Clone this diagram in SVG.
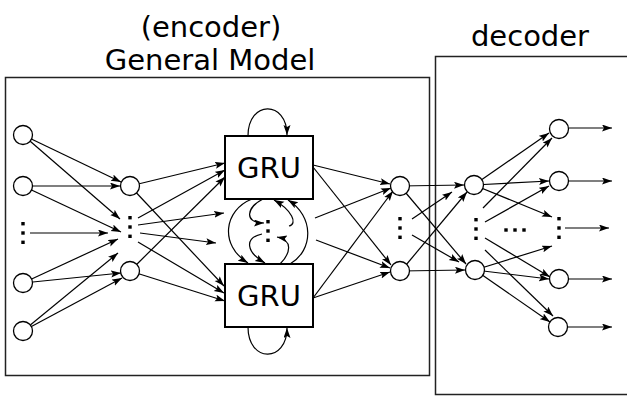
<svg xmlns="http://www.w3.org/2000/svg" width="627" height="396" viewBox="0 0 627 396">
  <style>
    .frame { fill: none; stroke: #222; stroke-width: 1.5; }
    .gru { fill: #fff; stroke: #000; stroke-width: 2; }
    .node { fill: #fff; stroke: #000; stroke-width: 1.3; }
    .edge { fill: none; stroke: #000; stroke-width: 1.2; marker-end: url(#arrow); }
    .title { font-family: "DejaVu Sans", "Liberation Sans", sans-serif; font-size: 29px; fill: #000; text-anchor: middle; }
    .label { font-family: "DejaVu Sans", "Liberation Sans", sans-serif; font-size: 29px; fill: #000; text-anchor: middle; }
    .dot { fill: #000; }
  </style>
  <defs>
    <marker id="arrow" markerUnits="userSpaceOnUse" markerWidth="11" markerHeight="8" refX="10" refY="3.5" orient="auto">
      <path d="M0,0 L10,3.5 L0,7 L2,3.5 Z" fill="#000"/>
    </marker>
    <g id="vdots">
      <rect class="dot" x="-1.7" y="-11" width="3.4" height="3.4"/>
      <rect class="dot" x="-1.7" y="-1.7" width="3.4" height="3.4"/>
      <rect class="dot" x="-1.7" y="7.6" width="3.4" height="3.4"/>
    </g>
  </defs>

  <!-- titles -->
  <text class="title" x="211" y="37">(encoder)</text>
  <text class="title" x="210" y="70">General Model</text>
  <text class="title" x="530" y="46">decoder</text>

  <!-- encoder / decoder frames -->
  <rect id="encoder" class="frame" x="5.5" y="77.5" width="424" height="298"/>
  <rect id="decoder" class="frame" x="435.5" y="56.5" width="200" height="338"/>

  <g id="connectors">
    <!-- input layer to first hidden layer -->
    <line class="edge" x1="23" y1="135" x2="121" y2="182"/>
    <line class="edge" x1="23" y1="135" x2="120" y2="219"/>
    <line class="edge" x1="23" y1="186" x2="120" y2="186"/>
    <line class="edge" x1="23" y1="186" x2="121" y2="232"/>
    <line class="edge" x1="30" y1="233" x2="108" y2="233"/>
    <line class="edge" x1="23" y1="283" x2="118" y2="239"/>
    <line class="edge" x1="23" y1="283" x2="121" y2="273"/>
    <line class="edge" x1="23" y1="331" x2="118" y2="253"/>
    <line class="edge" x1="23" y1="331" x2="122" y2="278"/>

    <!-- first hidden layer to GRU units -->
    <line class="edge" x1="130" y1="186" x2="225" y2="163"/>
    <line class="edge" x1="130" y1="186" x2="224" y2="286"/>
    <line class="edge" x1="138" y1="218" x2="225" y2="170"/>
    <line class="edge" x1="138" y1="225" x2="224" y2="213"/>
    <line class="edge" x1="140" y1="233" x2="216" y2="243"/>
    <line class="edge" x1="138" y1="242" x2="224" y2="293"/>
    <line class="edge" x1="130" y1="271" x2="225" y2="177"/>
    <line class="edge" x1="130" y1="271" x2="225" y2="301"/>

    <!-- GRU self loops -->
    <path class="edge" d="M248,136 C248,100 287,100 287,135"/>
    <path class="edge" d="M248,327 C248,363 287,363 287,328"/>

    <!-- recurrent links between the GRU units -->
    <path class="edge" d="M252,199 C224,210 219,245 248,263"/>
    <path class="edge" d="M263,199 C247,207 243,223 264,223"/>
    <path class="edge" d="M262,234 C244,238 246,252 265,263"/>
    <path class="edge" d="M289,226 C298,224 292,210 274,200"/>
    <path class="edge" d="M280,264 C291,253 293,240 277,237"/>
    <path class="edge" d="M290,264 C314,250 314,216 288,200"/>

    <!-- GRU units to second hidden layer -->
    <line class="edge" x1="313" y1="165" x2="390" y2="184"/>
    <line class="edge" x1="313" y1="167" x2="391" y2="265"/>
    <line class="edge" x1="315" y1="218" x2="391" y2="188"/>
    <line class="edge" x1="316" y1="240" x2="390" y2="268"/>
    <line class="edge" x1="313" y1="298" x2="393" y2="191"/>
    <line class="edge" x1="313" y1="298" x2="390" y2="272"/>

    <!-- encoder output to decoder hidden layer -->
    <line class="edge" x1="400" y1="186" x2="464" y2="185"/>
    <line class="edge" x1="400" y1="186" x2="466" y2="264"/>
    <line class="edge" x1="412" y1="219" x2="452" y2="192"/>
    <line class="edge" x1="412" y1="235" x2="459" y2="262"/>
    <line class="edge" x1="401" y1="271" x2="467" y2="192"/>
    <line class="edge" x1="401" y1="271" x2="465" y2="270"/>

    <!-- decoder hidden layer to output layer -->
    <line class="edge" x1="474" y1="185" x2="549" y2="133"/>
    <line class="edge" x1="474" y1="185" x2="549" y2="181"/>
    <line class="edge" x1="474" y1="185" x2="552" y2="217"/>
    <line class="edge" x1="483" y1="208" x2="552" y2="138"/>
    <line class="edge" x1="485" y1="222" x2="549" y2="186"/>
    <line class="edge" x1="485" y1="238" x2="550" y2="277"/>
    <line class="edge" x1="485" y1="250" x2="553" y2="316"/>
    <line class="edge" x1="475" y1="270" x2="552" y2="246"/>
    <line class="edge" x1="475" y1="270" x2="549" y2="279"/>
    <line class="edge" x1="475" y1="270" x2="550" y2="322"/>

    <!-- outputs -->
    <line class="edge" x1="569" y1="128" x2="612" y2="128"/>
    <line class="edge" x1="569" y1="181" x2="612" y2="181"/>
    <line class="edge" x1="565" y1="228" x2="609" y2="228"/>
    <line class="edge" x1="569" y1="279" x2="612" y2="279"/>
    <line class="edge" x1="568" y1="327" x2="612" y2="327"/>
  </g>

  <!-- input layer -->
  <g id="input">
    <circle class="node" cx="23" cy="135" r="9.5"/>
    <circle class="node" cx="23" cy="186" r="9.5"/>
    <use href="#vdots" x="23" y="233"/>
    <circle class="node" cx="23" cy="283" r="9.5"/>
    <circle class="node" cx="23" cy="331" r="9.5"/>
  </g>

  <!-- first hidden layer -->
  <g id="hidden1">
    <circle class="node" cx="130" cy="186" r="9.5"/>
    <use href="#vdots" x="130" y="227"/>
    <circle class="node" cx="130" cy="271" r="9.5"/>
  </g>

  <!-- GRU units -->
  <g id="gru-top">
    <rect class="gru" x="225" y="136" width="88" height="63"/>
    <text class="label" x="269" y="178">GRU</text>
  </g>
  <g id="gru-middle">
    <use href="#vdots" x="268" y="231"/>
  </g>
  <g id="gru-bottom">
    <rect class="gru" x="225" y="264" width="88" height="63"/>
    <text class="label" x="269" y="306">GRU</text>
  </g>

  <!-- encoder output layer -->
  <g id="hidden2">
    <circle class="node" cx="400" cy="186" r="9.5"/>
    <use href="#vdots" x="400" y="228"/>
    <circle class="node" cx="400" cy="271" r="9.5"/>
  </g>

  <!-- decoder hidden layer -->
  <g id="hidden3">
    <circle class="node" cx="474" cy="185" r="9.5"/>
    <use href="#vdots" x="476" y="229"/>
    <circle class="node" cx="475" cy="270" r="9.5"/>
  </g>

  <!-- horizontal ellipsis between decoder layers -->
  <g id="ellipsis">
    <rect class="dot" x="504.3" y="228.3" width="3.4" height="3.4"/>
    <rect class="dot" x="513.3" y="228.3" width="3.4" height="3.4"/>
    <rect class="dot" x="522.3" y="228.3" width="3.4" height="3.4"/>
  </g>

  <!-- output layer -->
  <g id="output">
    <circle class="node" cx="559" cy="129" r="9.5"/>
    <circle class="node" cx="559" cy="181" r="9.5"/>
    <use href="#vdots" x="559" y="228"/>
    <circle class="node" cx="559" cy="279" r="9.5"/>
    <circle class="node" cx="558" cy="327" r="9.5"/>
  </g>
</svg>
